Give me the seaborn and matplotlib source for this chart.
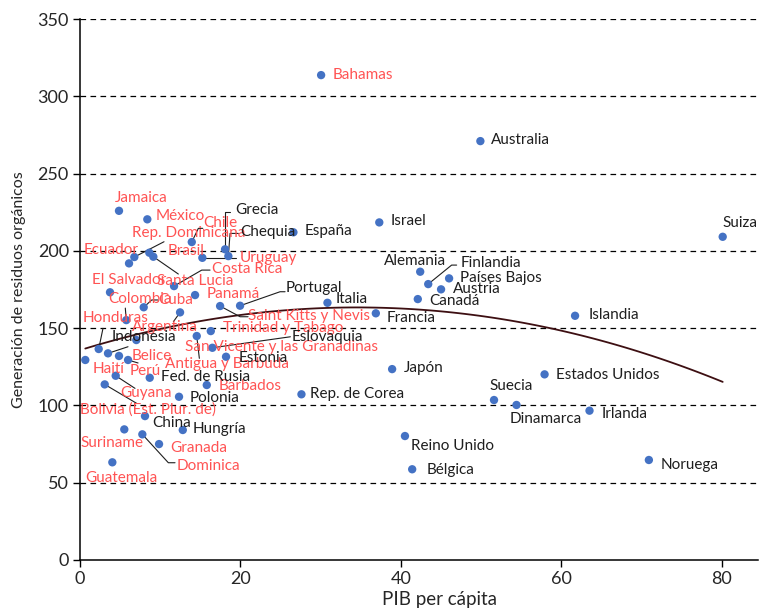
import seaborn as sns
import matplotlib.pyplot as plt
import pandas as pd

# Datos: PIB per cápita (miles) vs generación de residuos orgánicos
paises = ["Bahamas", "Jamaica", "México", "Chile", "Rep. Dominicana", "Ecuador",
          "Brasil", "Santa Lucia", "Uruguay", "Costa Rica", "El Salvador", "Panamá",
          "Cuba", "Colombia", "Argentina", "Saint Kitts y Nevis", "Trinidad y Tabago",
          "San Vicente y las Granadinas", "Antigua y Barbuda", "Honduras", "Haití",
          "Belice", "Perú", "Guyana", "Bolivia (Est. Plur. de)", "Barbados",
          "Suriname", "Dominica", "Granada", "Guatemala",
          "Australia", "Suiza", "Israel", "España", "Grecia", "Chequia", "Portugal",
          "Italia", "Francia", "Alemania", "Finlandia", "Países Bajos", "Austria",
          "Canadá", "Islandia", "Eslovaquia", "Estonia", "Fed. de Rusia", "Indonesia",
          "Polonia", "China", "Hungría", "Japón", "Rep. de Corea", "Estados Unidos",
          "Suecia", "Dinamarca", "Irlanda", "Reino Unido", "Bélgica", "Noruega"]
pib = [30.05, 4.86, 8.39, 13.93, 6.77, 6.11,
       8.64, 9.14, 15.25, 11.72, 3.74, 14.34,
       7.94, 5.77, 12.47, 17.46, 16.30,
       7.02, 14.55, 2.33, 0.66,
       4.86, 5.99, 4.45, 3.08, 15.80,
       5.52, 7.77, 9.85, 4.03,
       49.9, 80.1, 37.3, 26.6, 18.08, 18.49, 19.95,
       30.84, 36.87, 42.4, 43.4, 46.0, 45.0,
       42.1, 61.7, 16.5, 18.2, 8.69, 3.49,
       12.34, 8.10, 12.81, 38.9, 27.6, 57.9,
       51.6, 54.4, 63.5, 40.5, 41.4, 70.9]
residuos = [313.7, 225.9, 220.4, 205.7, 196.0, 191.9,
            198.8, 196.2, 195.5, 177.2, 173.2, 171.4,
            163.5, 155.2, 160.2, 164.3, 148.1,
            142.3, 144.9, 136.5, 129.4,
            132.0, 129.4, 119.2, 113.6, 113.2,
            84.5, 81.3, 75.0, 63.2,
            271.0, 209.1, 218.4, 212.0, 201.0, 196.6, 164.5,
            166.4, 159.6, 186.5, 178.5, 182.2, 175.1,
            168.8, 158.0, 137.3, 131.5, 117.9, 133.7,
            105.6, 93.1, 84.1, 123.5, 107.2, 120.1,
            103.5, 100.3, 96.6, 80.2, 58.7, 64.7]
grupo = ["ALC"] * 30 + ["Resto"] * 31

df = pd.DataFrame({"pais": paises, "pib": pib, "residuos": residuos, "grupo": grupo})

# Posición de cada etiqueta respecto a su punto (px: derecha, abajo)
offsets = {
    "Bahamas": (12, 0), "Jamaica": (-4, -13), "México": (8.7, -3.5), "Chile": (11, -19.5),
    "Rep. Dominicana": (-2.6, -24.5), "Ecuador": (-45.7, -13.3), "Brasil": (18, -2.2),
    "Santa Lucia": (3.4, 24.3), "Uruguay": (37, 0), "Costa Rica": (37.7, -17),
    "El Salvador": (-18.3, -12.6), "Panamá": (11.7, -1), "Cuba": (14.6, -7.3),
    "Colombia": (-18, -21.3), "Argentina": (-48.3, 14.4), "Saint Kitts y Nevis": (28.3, 9.8),
    "Trinidad y Tabago": (12, -3.5), "San Vicente y las Granadinas": (48.7, 6.7),
    "Antigua y Barbuda": (-31.7, 28), "Honduras": (-15.7, -30.7), "Haití": (7.7, 9),
    "Belice": (12.3, -0.2), "Perú": (1.7, 10.8), "Guyana": (4.3, 17.1),
    "Bolivia (Est. Plur. de)": (-24.7, 24.7), "Barbados": (11.7, 0.8), "Suriname": (-44.3, 13.2),
    "Dominica": (34.4, 31.5), "Granada": (11, 3.5), "Guatemala": (-27.3, 16),
    "Australia": (11, -1), "Suiza": (0, -14), "Israel": (11, -1), "España": (11, -1),
    "Grecia": (10, -39.3), "Chequia": (11.7, -24), "Portugal": (46, -18.2),
    "Italia": (7.7, -3.7), "Francia": (10.3, 4.2), "Alemania": (-36, -10.9),
    "Finlandia": (32.7, -21.5), "Países Bajos": (11, -0.8), "Austria": (12.3, -0.3),
    "Canadá": (11.3, 1.8), "Islandia": (14, -0.7), "Eslovaquia": (79.4, -10.7),
    "Estonia": (12.3, 0.8), "Fed. de Rusia": (11, -1), "Indonesia": (3.3, -16.6),
    "Polonia": (11, 0.8), "China": (7.7, 6.5), "Hungría": (10, -1), "Japón": (11.7, -0.7),
    "Rep. de Corea": (9, 0.2), "Estados Unidos": (11, 0.2), "Suecia": (-4.7, -14),
    "Dinamarca": (-6.7, 14.5), "Irlanda": (12.4, 3.8), "Reino Unido": (6, 10.3),
    "Bélgica": (14.4, 0.7), "Noruega": (12, 5),
}
# Líneas guía (vértices en px respecto al punto)
guias = {
    "Chile": [(6.6, -13.7), (11, -13.7)], "Rep. Dominicana": [(29.7, -15.3)],
    "Santa Lucia": [(25, 17.3)], "Uruguay": [(34, 0)],
    "Costa Rica": [(27.7, -16), (36, -16)], "Cuba": [(8, -7.3), (14, -7.3)],
    "Colombia": [(-1, -12)], "Argentina": [(-6.7, 9.4)],
    "Saint Kitts y Nevis": [(20, 10.7), (28, 10.7)], "Antigua y Barbuda": [(2.6, 22.3)],
    "Honduras": [(4.3, -20.7)], "Perú": [(10, 3)], "Guyana": [(19.3, 12.6)],
    "Bolivia (Est. Plur. de)": [(32, 19)], "Dominica": [(26, 28.4), (32.7, 28.4)],
    "Grecia": [(0, -37.6), (5, -37.6)], "Chequia": [(1.7, -22.7), (10, -22.7)],
    "Portugal": [(40, -14), (45, -14)], "Finlandia": [(23.4, -19), (28.4, -19)],
    "Eslovaquia": [(78, -11)], "Indonesia": [(20, -6.6)],
}

sns.set_theme(style="ticks")
plt.rcParams["font.family"] = ["Lato", "DejaVu Sans"]

fig = plt.figure(figsize=(7.59, 6.14), dpi=100)
ax = fig.add_axes([80 / 759, 54 / 614, 678 / 759, 541 / 614])
ax.set_xlim(0, 84.5)
ax.set_ylim(0, 350)

for yv in range(50, 351, 50):
    ax.axhline(yv, color="black", lw=0.9, ls=(0, (4.5, 3.5)), zorder=0)

sns.regplot(data=df, x="pib", y="residuos", order=2, ci=None, scatter=False,
            truncate=True, color="#3d0f12", line_kws={"lw": 1.3}, ax=ax)
sns.scatterplot(data=df, x="pib", y="residuos", color="#4472C4", s=36,
                edgecolor="none", zorder=3, ax=ax)

# Etiquetas y guías
a_datos = ax.transData.inverted()
for _, fila in df.iterrows():
    px, py = ax.transData.transform((fila.pib, fila.residuos))
    dx, dy = offsets[fila.pais]
    color = "#FF5353" if fila.grupo == "ALC" else "#1e1e1e"
    if fila.pais in guias:
        pts = [(px, py)] + [(px + gx, py - gy) for gx, gy in guias[fila.pais]]
        xs, ys = zip(*[a_datos.transform(p) for p in pts])
        ax.plot(xs, ys, color="#1e1e1e", lw=0.8, zorder=2)
    ax.annotate(fila.pais, (fila.pib, fila.residuos), xytext=(dx, -dy),
                textcoords="offset pixels", ha="left", va="center",
                fontsize=11, color=color, zorder=4)

ax.set_xticks([0, 20, 40, 60, 80])
ax.set_yticks(range(0, 351, 50))
ax.tick_params(axis="both", labelsize=13, length=5, width=1, color="black", pad=3)
for s in ["left", "bottom"]:
    ax.spines[s].set_color("black")
    ax.spines[s].set_linewidth(1.1)
sns.despine(ax=ax)
ax.set_xlabel("PIB per cápita", fontsize=13.5, labelpad=3)
ax.xaxis.set_label_coords(0.53, -0.058)
ax.set_ylabel("Generación de residuos orgánicos", fontsize=11.5, labelpad=8)

plt.savefig("out.png", dpi=100)
